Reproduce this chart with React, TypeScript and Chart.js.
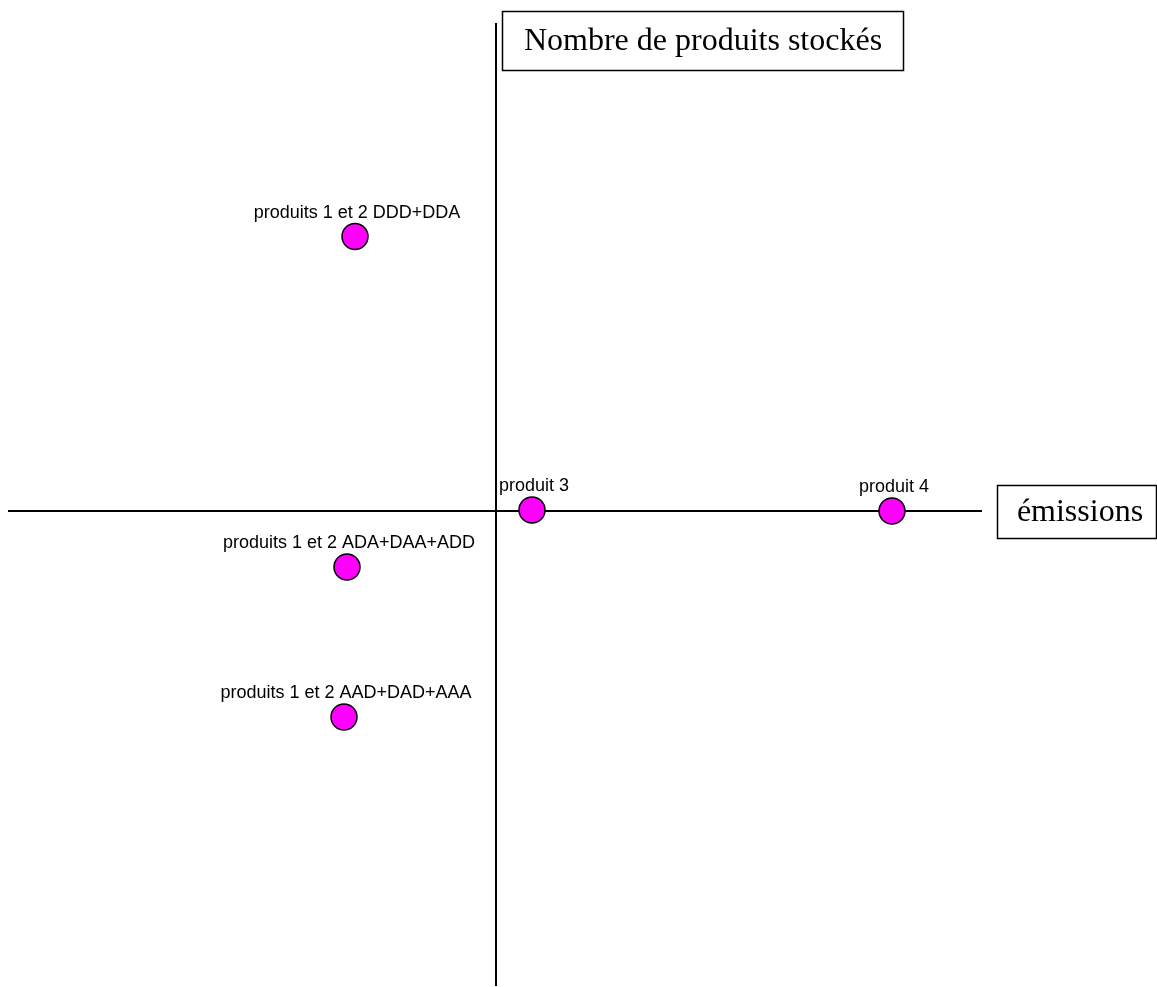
import React, { useEffect, useRef } from "react";
import { Chart, registerables } from "chart.js";

Chart.register(...registerables);

const pointLabels = [
  "produits 1 et 2 DDD+DDA",
  "produit 3",
  "produit 4",
  "produits 1 et 2 ADA+DAA+ADD",
  "produits 1 et 2 AAD+DAD+AAA",
];
const xValues = [-1.41, 0.36, 3.96, -1.49, -1.52];
const yValues = [2.745, 0.01, 0.0, -0.56, -2.06];
const xAxisTitle = "émissions";
const yAxisTitle = "Nombre de produits stockés";
const xRange = [-4.88, 4.86];
const yRange = [-4.75, 4.88];

const crossPlugin = {
  id: "crossPlugin",
  beforeDatasetsDraw(chart: any) {
    const { ctx, chartArea, scales } = chart;
    const x0 = scales.x.getPixelForValue(0);
    const y0 = scales.y.getPixelForValue(0);
    ctx.save();
    ctx.strokeStyle = "#000";
    ctx.lineWidth = 2;
    ctx.beginPath();
    ctx.moveTo(chartArea.left, y0);
    ctx.lineTo(chartArea.right, y0);
    ctx.moveTo(x0, chartArea.top);
    ctx.lineTo(x0, chartArea.bottom);
    ctx.stroke();
    ctx.restore();
  },
  afterDatasetsDraw(chart: any) {
    const { ctx, chartArea, scales } = chart;
    const x0 = scales.x.getPixelForValue(0);
    const y0 = scales.y.getPixelForValue(0);
    ctx.save();
    // point labels
    ctx.fillStyle = "#000";
    ctx.font = "18px 'Liberation Sans', Arial, sans-serif";
    ctx.textAlign = "center";
    ctx.textBaseline = "alphabetic";
    const meta = chart.getDatasetMeta(0);
    meta.data.forEach((pt: any, i: number) => {
      ctx.fillText(pointLabels[i], pt.x + 2, pt.y - 19);
    });
    // boxes
    ctx.strokeStyle = "#000";
    ctx.lineWidth = 1.5;
    ctx.font = "32px 'Liberation Serif', 'Times New Roman', serif";
    ctx.textBaseline = "middle";
    // y axis title box
    const bx = x0 + 6.5;
    const by = chartArea.top - 11.5;
    const bw = 401;
    const bh = 59;
    ctx.fillStyle = "#fff";
    ctx.fillRect(bx, by, bw, bh);
    ctx.strokeRect(bx, by, bw, bh);
    ctx.fillStyle = "#000";
    ctx.fillText(yAxisTitle, bx + bw / 2, by + bh / 2 + 1);
    // x axis title box
    const ex = chartArea.right + 15.5;
    const ey = y0 - 25.5;
    const ew = 159;
    const eh = 53;
    ctx.fillStyle = "#fff";
    ctx.fillRect(ex, ey, ew, eh);
    ctx.strokeRect(ex, ey, ew, eh);
    ctx.fillStyle = "#000";
    ctx.fillText(xAxisTitle, ex + ew / 2 + 3, ey + eh / 2 + 1);
    ctx.restore();
  },
};

export default function App() {
  const ref = useRef<HTMLCanvasElement | null>(null);
  useEffect(() => {
    if (!ref.current) return;
    const chart = new Chart(ref.current, {
      type: "scatter",
      data: {
        datasets: [
          {
            data: xValues.map((x, i) => ({ x, y: yValues[i] })),
            backgroundColor: "#ff00ff",
            borderColor: "#000",
            borderWidth: 1.5,
            pointRadius: 13,
            pointHoverRadius: 13,
          },
        ],
      },
      options: {
        animation: false,
        responsive: false,
        events: [],
        layout: { autoPadding: false, padding: { left: 8, right: 175, top: 23, bottom: 1 } },
        plugins: { legend: { display: false }, tooltip: { enabled: false } },
        scales: {
          x: { type: "linear", display: false, min: xRange[0], max: xRange[1] },
          y: { type: "linear", display: false, min: yRange[0], max: yRange[1] },
        },
      },
      plugins: [crossPlugin],
    });
    return () => chart.destroy();
  }, []);
  return (
    <div style={{ position: "absolute", left: 0, top: 0, width: 1157, height: 987, background: "#fff" }}>
      <canvas ref={ref} width={1157} height={987} style={{ width: 1157, height: 987, display: "block" }} />
    </div>
  );
}
